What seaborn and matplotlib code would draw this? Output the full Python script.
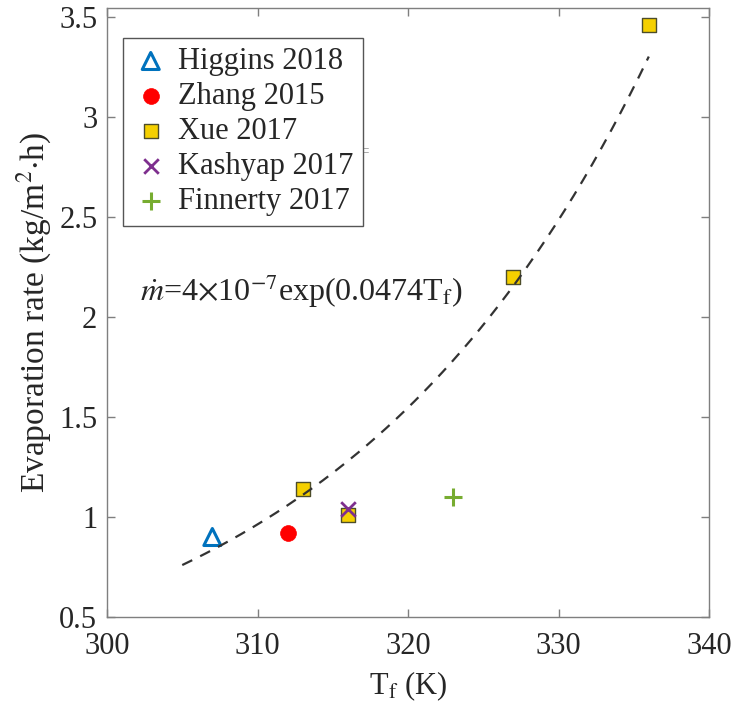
import numpy as np
import pandas as pd
import matplotlib
matplotlib.use("Agg")
import matplotlib.pyplot as plt
import seaborn as sns

# ---- data ----
higgins_T = [307.0]
higgins_m = [0.90]
zhang_T = [312.0]
zhang_m = [0.92]
xue_T = [313.0, 316.0, 327.0, 336.0]
xue_m = [1.14, 1.01, 2.20, 3.46]
kashyap_T = [316.0]
kashyap_m = [1.04]
finnerty_T = [323.0]
finnerty_m = [1.10]

# fitted curve parameters (from the equation on the chart)
fit_a = 4e-7
fit_b = 0.0474
fit_T_start, fit_T_end = 305.0, 336.0

x_ticks = [300, 310, 320, 330, 340]
y_ticks = [0.5, 1, 1.5, 2, 2.5, 3, 3.5]
y_tick_labels = ["0.5", "1", "1.5", "2", "2.5", "3", "3.5"]

sns.set_theme(style="white")
plt.rcParams["font.family"] = ["Liberation Serif", "DejaVu Serif"]
plt.rcParams["mathtext.fontset"] = "stix"

fig = plt.figure(figsize=(7.36, 7.14), dpi=100)
ax = fig.add_axes([107/736, 1 - 617/714, (709-107)/736, (617-8)/714])

spine_col = "#7f7f7f"
txt_col = "#262626"

series = [
    ("Higgins 2018", higgins_T, higgins_m, "^", "none", "#0072BD", 150, 2.2),
    ("Zhang 2015", zhang_T, zhang_m, "o", "#FF0000", "#FF0000", 130, 0.5),
    ("Xue 2017", xue_T, xue_m, "s", "#F5D000", "#4d4d2a", 110, 1.0),
    ("Kashyap 2017", kashyap_T, kashyap_m, "x", "#7E2F8E", "#7E2F8E", 110, 2.0),
    ("Finnerty 2017", finnerty_T, finnerty_m, "+", "#77AC30", "#77AC30", 180, 2.2),
]

for name, T, m, mk, fc, ec, s, lw in series:
    df = pd.DataFrame({"T": T, "m": m})
    if mk in ("x", "+"):
        sns.scatterplot(data=df, x="T", y="m", marker=mk, s=s, color=ec,
                        linewidth=lw, ax=ax, label=name, zorder=3)
    else:
        sns.scatterplot(data=df, x="T", y="m", marker=mk, s=s,
                        facecolor=fc, edgecolor=ec, linewidth=lw,
                        ax=ax, label=name, zorder=3)

T_fit = np.linspace(fit_T_start, fit_T_end, 200)
m_fit = fit_a * np.exp(fit_b * T_fit)
sns.lineplot(x=T_fit, y=m_fit, ax=ax, color="#333333", linestyle=(0, (5, 4)),
             linewidth=1.6, zorder=4, label="_fit")

ax.set_xlim(300, 340)
ax.set_ylim(0.5, 3.545)
ax.set_xticks(x_ticks)
ax.set_yticks(y_ticks)
ax.set_xticklabels([str(v) for v in x_ticks])
ax.set_yticklabels(y_tick_labels)

for sp in ax.spines.values():
    sp.set_visible(True)
    sp.set_color(spine_col)
    sp.set_linewidth(1.0)

ax.tick_params(axis="both", which="major", direction="in", length=6, width=1.0,
               color=spine_col, labelsize=22, labelcolor=txt_col,
               top=True, right=True, bottom=True, left=True)
ax.tick_params(axis="x", pad=11)
ax.tick_params(axis="y", pad=7)

ax.set_xlabel(r"T$_\mathrm{f}$ (K)", fontsize=22, color=txt_col, labelpad=6)
ax.set_ylabel(r"Evaporation rate (kg/m$^2$$\cdot$h)", fontsize=24,
              color=txt_col, labelpad=4)

ax.text(302.2, 2.13, r"$\dot{m}$=4$\times$10$^{\mathrm{-7}}$exp(0.0474T$_\mathrm{f}$)",
        fontsize=23, color=txt_col, va="center", ha="left")
ax.text(317.1, 2.82, "=", fontsize=15, color="#9a9a9a", va="center", ha="center")

leg = ax.legend(loc="upper left", bbox_to_anchor=(0.027, 0.951), borderaxespad=0,
                fontsize=22, frameon=True, fancybox=False, framealpha=1,
                edgecolor="#555555", handletextpad=0.3, labelspacing=0.2,
                handlelength=1.2, borderpad=0.3)
leg.get_frame().set_linewidth(1.0)
for t in leg.get_texts():
    t.set_color(txt_col)

fig.savefig("out.png", dpi=100)
